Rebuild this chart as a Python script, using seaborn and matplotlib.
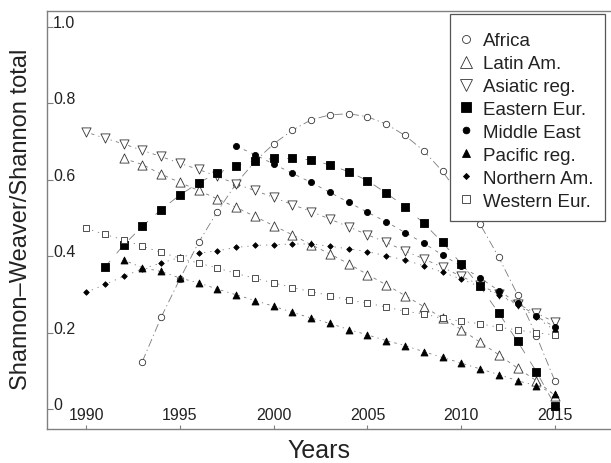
import pandas as pd
import seaborn as sns
import matplotlib.pyplot as plt
from matplotlib.lines import Line2D

# series (Shannon-Weaver / Shannon total)
regions = ["Africa", "Latin Am.", "Asiatic reg.", "Eastern Eur.",
           "Middle East", "Pacific reg.", "Northern Am.", "Western Eur."]
first_year = [1993, 1992, 1990, 1991, 1998, 1992, 1990, 1990]

africa = [0.124, 0.240, 0.340, 0.436, 0.517, 0.590, 0.648, 0.694, 0.730, 0.757,
          0.770, 0.773, 0.765, 0.746, 0.716, 0.676, 0.622, 0.555, 0.484, 0.397,
          0.299, 0.192, 0.072]
latin_am = [0.656, 0.640, 0.615, 0.593, 0.572, 0.550, 0.528, 0.504, 0.480, 0.456,
            0.430, 0.406, 0.380, 0.352, 0.325, 0.297, 0.268, 0.238, 0.208, 0.175,
            0.142, 0.107, 0.074, 0.035]
asiatic = [0.725, 0.709, 0.694, 0.677, 0.661, 0.643, 0.627, 0.609, 0.589, 0.572,
           0.554, 0.535, 0.517, 0.497, 0.477, 0.456, 0.436, 0.414, 0.393, 0.371,
           0.347, 0.325, 0.300, 0.275, 0.251, 0.227]
eastern_eur = [0.371, 0.429, 0.478, 0.522, 0.560, 0.592, 0.618, 0.636, 0.650, 0.656,
               0.656, 0.652, 0.639, 0.621, 0.598, 0.565, 0.530, 0.486, 0.436, 0.380,
               0.321, 0.251, 0.177, 0.098, 0.009]
middle_east = [0.688, 0.666, 0.641, 0.617, 0.593, 0.567, 0.541, 0.515, 0.490, 0.462,
               0.434, 0.403, 0.374, 0.343, 0.310, 0.277, 0.243, 0.214]
pacific = [0.390, 0.370, 0.360, 0.343, 0.330, 0.314, 0.299, 0.284, 0.269, 0.253,
           0.238, 0.224, 0.208, 0.194, 0.179, 0.166, 0.150, 0.135, 0.120, 0.105,
           0.090, 0.074, 0.061, 0.039]
northern_am = [0.305, 0.326, 0.347, 0.367, 0.382, 0.397, 0.408, 0.414, 0.423, 0.428,
               0.430, 0.432, 0.432, 0.426, 0.419, 0.412, 0.401, 0.390, 0.375, 0.358,
               0.340, 0.320, 0.298, 0.272, 0.240, 0.205]
western_eur = [0.473, 0.457, 0.443, 0.426, 0.410, 0.395, 0.382, 0.369, 0.355, 0.342,
               0.330, 0.318, 0.307, 0.297, 0.285, 0.277, 0.267, 0.256, 0.249, 0.237,
               0.230, 0.223, 0.214, 0.207, 0.199, 0.194]

series = [africa, latin_am, asiatic, eastern_eur, middle_east, pacific, northern_am, western_eur]

x_ticks = [1990, 1995, 2000, 2005, 2010, 2015]
y_ticks = [0, 0.2, 0.4, 0.6, 0.8, 1.0]
y_tick_labels = ["0", "0.2", "0.4", "0.6", "0.8", "1.0"]

rows = []
for reg, y0, vals in zip(regions, first_year, series):
    for i, v in enumerate(vals):
        rows.append((reg, y0 + i, v))
df = pd.DataFrame(rows, columns=["region", "year", "ratio"])

# marker look per region: (marker, filled, size in pt)
marker_style = {
    "Africa": ("o", False, 4.6),
    "Latin Am.": ("^", False, 6.6),
    "Asiatic reg.": ("v", False, 6.6),
    "Eastern Eur.": ("s", True, 6.2),
    "Middle East": ("o", True, 4.4),
    "Pacific reg.": ("^", True, 5.0),
    "Northern Am.": ("D", True, 2.8),
    "Western Eur.": ("s", False, 4.4),
}
dash_style = {
    "Africa": (10, 4, 1.5, 4),
    "Latin Am.": (4, 5),
    "Asiatic reg.": (1.5, 5, 4, 5),
    "Eastern Eur.": (10, 12),
    "Middle East": (4, 6),
    "Pacific reg.": (1.5, 5, 3, 5),
    "Northern Am.": (1.5, 6),
    "Western Eur.": (1.5, 6),
}

sns.set_style("white")
plt.rcParams["font.family"] = ["Liberation Sans", "DejaVu Sans"]
ink = "#222222"
frame = "#808080"

fig = plt.figure(figsize=(6.11, 4.64), dpi=100)
ax = fig.add_axes([47 / 611, 34 / 464, 564 / 611, 418 / 464])

sns.lineplot(data=df, x="year", y="ratio", hue="region", style="region",
             palette={r: "#7a7a7a" for r in regions}, dashes=dash_style,
             linewidth=0.6, legend=False, ax=ax, zorder=1)

handles = []
for reg in regions:
    m, filled, sz = marker_style[reg]
    sub = df[df["region"] == reg]
    face = "black" if filled else "white"
    edge = "black" if filled else "#333333"
    sns.scatterplot(data=sub, x="year", y="ratio", marker=m, s=sz ** 2,
                    color=face, edgecolor=edge, linewidth=0.6, ax=ax, zorder=3)
    handles.append(Line2D([], [], ls="none", marker=m,
                          markersize=sz * 1.25 if not filled else sz * 1.1,
                          markerfacecolor=face, markeredgecolor=edge, markeredgewidth=0.6))

ax.set_xlim(1987.92, 2017.98)
ax.set_ylim(-0.0524, 1.0419)
ax.set_xticks(x_ticks)
ax.set_xticklabels([str(t) for t in x_ticks])
ax.set_yticks(y_ticks)
ax.set_yticklabels(y_tick_labels)

ax.tick_params(axis="x", bottom=True, direction="in", length=3, width=0.8, color=frame,
               labelsize=11.5, labelcolor=ink, pad=-5)
ax.tick_params(axis="y", left=True, direction="in", length=4.5, width=0.8, color=frame,
               labelsize=11.5, labelcolor=ink, pad=-4.3)
for lab in ax.get_xticklabels():
    lab.set_verticalalignment("bottom")
for lab in ax.get_yticklabels():
    lab.set_horizontalalignment("left")
    lab.set_verticalalignment("baseline")

for side in ["left", "bottom", "top"]:
    ax.spines[side].set_color(frame)
    ax.spines[side].set_linewidth(1.0)
ax.spines["right"].set_visible(False)

ax.set_xlabel("Years", fontsize=18, color=ink)
ax.set_ylabel("Shannon\u2013Weaver/Shannon total", fontsize=17, color=ink)
ax.xaxis.set_label_coords(0.482, -0.022)
ax.yaxis.set_label_coords(-0.0266, 0.505)

# a tiny blank title gives the extra space above the first entry
leg = ax.legend(handles, regions, loc="upper right", bbox_to_anchor=(605 / 611, 1 - 15 / 464),
                bbox_transform=fig.transFigure, borderaxespad=0, fontsize=13.5,
                handlelength=0.5, handletextpad=0.65, labelspacing=0.31,
                borderpad=0.6, fancybox=False, framealpha=1, labelcolor=ink,
                title=" ", title_fontsize=1.5)
leg.get_frame().set_edgecolor("#555555")
leg.get_frame().set_linewidth(0.9)

fig.savefig("out.png", dpi=100)
